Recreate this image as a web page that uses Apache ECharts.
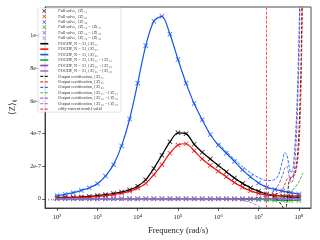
<!DOCTYPE html>
<html><head><meta charset="utf-8">
<script src="https://cdn.jsdelivr.net/npm/echarts@6/dist/echarts.min.js"></script>
<style>html,body{margin:0;padding:0;background:#fff}#c{width:320px;height:240px}</style>
</head><body><div id="c"></div>
<script>
// Frequency grid (rad/s) for full solve / FOGDP
const freq = [100, 158.5, 251.2, 398.1, 631, 1000, 1585, 2512, 3981, 6310, 1e4, 1.585e4, 2.512e4, 3.981e4, 6.31e4, 1e5, 1.585e5, 2.512e5, 3.981e5, 6.31e5, 1e6, 1.585e6, 2.512e6, 3.981e6, 6.31e6, 1e7, 1.585e7, 2.512e7, 3.981e7, 6.31e7, 1e8];
const z11 = [0.08e-7,0.09e-7,0.1e-7,0.12e-7,0.15e-7,0.2e-7,0.26e-7,0.33e-7,0.42e-7,0.56e-7,0.78e-7,1.18e-7,1.87e-7,2.68e-7,3.5e-7,4.05e-7,4.0e-7,3.35e-7,2.86e-7,2.45e-7,2.05e-7,1.66e-7,1.28e-7,0.95e-7,0.68e-7,0.47e-7,0.3e-7,0.22e-7,0.15e-7,0.12e-7,0.1e-7];
const z22 = [0.05e-7,0.06e-7,0.07e-7,0.09e-7,0.11e-7,0.15e-7,0.2e-7,0.26e-7,0.35e-7,0.47e-7,0.65e-7,0.95e-7,1.48e-7,2.1e-7,2.8e-7,3.3e-7,3.38e-7,2.95e-7,2.45e-7,2.05e-7,1.7e-7,1.35e-7,1.0e-7,0.72e-7,0.5e-7,0.34e-7,0.24e-7,0.19e-7,0.18e-7,0.18e-7,0.2e-7];
const z33 = [0.2e-7,0.28e-7,0.38e-7,0.52e-7,0.68e-7,0.93e-7,1.4e-7,2.1e-7,3.25e-7,4.9e-7,7.1e-7,9.4e-7,10.9e-7,11.2e-7,10.1e-7,8.55e-7,7.1e-7,5.85e-7,4.85e-7,3.95e-7,3.3e-7,2.8e-7,2.3e-7,1.78e-7,1.35e-7,0.98e-7,0.72e-7,0.58e-7,0.48e-7,0.38e-7,0.3e-7];
const z12 = [0,0,0,0,0,0,0,0,0,0,0,0,0,0,0,0,0,0,0,0,0,0,-0.01e-7,-0.02e-7,-0.03e-7,-0.05e-7,-0.06e-7,-0.08e-7,-0.09e-7,-0.1e-7,-0.1e-7];
const z13 = [0,0,0,0,0,0,0,0,0,0,0,0,0,0,0,0,0,0,0,0,0,0,0,0,0,0,0,0,0,0,0];
const z23 = [0,0,0,0,0,0,0,0,0,0,0,0,0,0,0,0,0,0,0,0,0,0,0,0,0,0,0,0,0,0,0];
// Output certification curves (high-frequency part)
const certFreq = [1e6, 1.585e6, 2.512e6, 3.981e6, 6.31e6, 1e7, 1.585e7, 2.512e7, 3.162e7, 3.981e7, 4.467e7, 5.012e7, 5.623e7, 6.31e7, 7.079e7, 7.943e7, 8.913e7, 1e8, 1.122e8, 1.259e8];
const cert11 = [2.05e-7,1.66e-7,1.3e-7,0.95e-7,0.68e-7,0.47e-7,0.3e-7,0.1e-7,-0.15e-7,-0.5e-7,-0.7e-7,-0.3e-7,1.0e-7,1.3e-7,1.4e-7,1.6e-7,2.3e-7,4.0e-7,8e-7,16e-7];
const cert22 = [1.68e-7,1.35e-7,1.0e-7,0.72e-7,0.5e-7,0.34e-7,0.25e-7,0.28e-7,0.35e-7,0.6e-7,0.9e-7,1.2e-7,1.3e-7,1.32e-7,1.35e-7,1.5e-7,2.0e-7,3.2e-7,6.5e-7,14e-7];
const cert33 = [3.4e-7,2.9e-7,2.42e-7,1.98e-7,1.6e-7,1.3e-7,1.12e-7,1.18e-7,1.5e-7,2.4e-7,2.85e-7,2.7e-7,2.1e-7,1.6e-7,1.8e-7,3.2e-7,5.6e-7,9.8e-7,16e-7,25e-7];
const cert12 = [0,0,0,0,0,0.01e-7,0.02e-7,0.05e-7,0.08e-7,0.15e-7,0.2e-7,0.27e-7,0.36e-7,0.45e-7,0.55e-7,0.7e-7,0.85e-7,1.05e-7,1.3e-7,1.6e-7];
const cert13 = [0,0,0,0.01e-7,0.03e-7,0.08e-7,0.2e-7,0.5e-7,0.9e-7,1.5e-7,1.9e-7,2.0e-7,1.5e-7,1.0e-7,1.1e-7,2.2e-7,4.5e-7,8.5e-7,15e-7,24e-7];
const cert23 = [0,0,-0.02e-7,-0.08e-7,-0.22e-7,-0.45e-7,-0.8e-7,-1.2e-7,-1.5e-7,-1.8e-7,-2e-7,-2.2e-7,-2.4e-7,-2.6e-7,-2.8e-7,-3e-7,-3.2e-7,-3.4e-7,-3.6e-7,-3.8e-7];
const eddyFreq = 1.58e7;
// Ticks
const xTicks = [1e2, 1e3, 1e4, 1e5, 1e6, 1e7, 1e8];
const xMinor = [60,70,80,90,200,300,400,500,600,700,800,900,2000,3000,4000,5000,6000,7000,8000,9000,2e4,3e4,4e4,5e4,6e4,7e4,8e4,9e4,2e5,3e5,4e5,5e5,6e5,7e5,8e5,9e5,2e6,3e6,4e6,5e6,6e6,7e6,8e6,9e6,2e7,3e7,4e7,5e7,6e7,7e7,8e7,9e7];
const yTicks = [0, 2e-7, 4e-7, 6e-7, 8e-7, 1e-6];
const yLabels = ['0', '2e-7', '4e-7', '6e-7', '8e-7', '1e-6'];

const keys = ['₁₁', '₂₂', '₃₃', '₁₂ = ⟨Z⟩₂₁', '₁₃ = ⟨Z⟩₃₁', '₂₃ = ⟨Z⟩₃₂'];
const colors = ['#000000', '#ee1111', '#1155ee', '#22a022', '#8844bb', '#a070d8'];
const fullData = [z11, z22, z33, z12, z13, z23];
const certData = [cert11, cert22, cert33, cert12, cert13, cert23];

const XSYM = 'path://M0,1.2L1.2,0L5,3.8L8.8,0L10,1.2L6.2,5L10,8.8L8.8,10L5,6.2L1.2,10L0,8.8L3.8,5Z';
const FONT = 'Liberation Serif';
const sup = {2:'²',3:'³',4:'⁴',5:'⁵',6:'⁶',7:'⁷',8:'⁸'};

const series = [];
const legendData = [];
fullData.forEach((d, i) => {
  const n = 'Full solve, ⟨Z⟩' + keys[i];
  legendData.push({name: n});
  series.push({name: n, type: 'scatter', symbol: XSYM, symbolSize: 5,
    itemStyle: {color: colors[i]}, data: freq.map((f, j) => [f, d[j]]), z: 2});
});
fullData.forEach((d, i) => {
  const n = 'FOGDP, N = 31, ⟨Z⟩' + keys[i];
  legendData.push({name: n, itemStyle: {opacity: 0}, lineStyle: {width: 1.6}});
  series.push({name: n, type: 'line', showSymbol: false, symbol: 'none', smooth: 0.3,
    lineStyle: {color: colors[i], width: 1.2}, itemStyle: {color: colors[i]},
    data: freq.map((f, j) => [f, d[j]]), z: 3});
});
certData.forEach((d, i) => {
  const n = 'Output certification, ⟨Z⟩' + keys[i];
  legendData.push({name: n, itemStyle: {opacity: 0}, lineStyle: {width: 1.2}});
  series.push({name: n, type: 'line', showSymbol: false, symbol: 'none', smooth: 0.3,
    lineStyle: {color: colors[i], width: 1, type: [3, 1.5], opacity: 0.85}, itemStyle: {color: colors[i]},
    data: certFreq.map((f, j) => [f, d[j]]), z: 4});
});
legendData.push({name: 'eddy-current model valid', itemStyle: {opacity: 0}, lineStyle: {width: 1.2}});
series.push({name: 'eddy-current model valid', type: 'line', data: [], symbol: 'none',
  lineStyle: {color: '#ff4444', width: 1, type: [3, 1.5]}, itemStyle: {color: '#ff4444'},
  markLine: {silent: true, symbol: 'none', label: {show: false}, animation: false,
    lineStyle: {color: '#ff5555', width: 1, type: [3, 1.5]}, data: [{xAxis: eddyFreq}]}, z: 5});

const axColor = '#222';
const chart = echarts.init(document.getElementById('c'), null, {renderer: 'canvas'});
chart.setOption({
  animation: false,
  backgroundColor: '#fff',
  grid: {left: 37, right: 9, top: 7, bottom: 31, show: true, borderColor: axColor, borderWidth: 0.8, backgroundColor: '#fff'},
  xAxis: [{
    type: 'log', logBase: 10, min: 50.12, max: 1.995e8,
    axisLine: {show: true, onZero: false, lineStyle: {color: axColor, width: 0.8}},
    axisTick: {show: true, length: 3, customValues: xTicks, lineStyle: {color: axColor, width: 0.7}},
    axisLabel: {customValues: xTicks, fontSize: 6.5, fontFamily: FONT, color: axColor, margin: 6,
      formatter: v => '10' + sup[Math.round(Math.log10(v))]},
    splitLine: {show: false},
    name: 'Frequency (rad/s)', nameLocation: 'middle', nameGap: 18,
    nameTextStyle: {fontSize: 8.5, fontFamily: FONT, color: axColor}
  }, {
    type: 'log', logBase: 10, min: 50.12, max: 1.995e8, position: 'bottom',
    axisLine: {show: false},
    axisTick: {show: true, length: 1.6, customValues: xMinor, lineStyle: {color: axColor, width: 0.5}},
    axisLabel: {show: false}, splitLine: {show: false}
  }],
  yAxis: {
    type: 'value', min: -0.56e-7, max: 11.77e-7,
    axisLine: {show: true, onZero: false, lineStyle: {color: axColor, width: 0.8}},
    axisTick: {show: true, length: 3, customValues: yTicks, lineStyle: {color: axColor, width: 0.7}},
    axisLabel: {customValues: yTicks, fontSize: 6, fontFamily: FONT, color: axColor, margin: 4,
      formatter: v => yLabels[yTicks.findIndex(t => Math.abs(t - v) < 1e-12)] || ''},
    splitLine: {show: false},
    name: '⟨Z⟩ᵢⱼ', nameLocation: 'middle', nameGap: 28, nameRotate: 90,
    nameTextStyle: {fontSize: 8.5, fontFamily: FONT, color: axColor}
  },
  legend: {
    data: legendData, orient: 'vertical', left: 38, top: 8,
    itemWidth: 8, itemHeight: 4, itemGap: 1.45,
    padding: [1, 3, 1, 1.5],
    backgroundColor: 'rgba(255,255,255,0.85)', borderColor: '#cccccc', borderWidth: 0.6, borderRadius: 1,
    textStyle: {fontSize: 4.3, lineHeight: 4, fontFamily: FONT, color: '#333', padding: [0, 0, 0, 5]}
  },
  series: series
});
</script></body></html>
